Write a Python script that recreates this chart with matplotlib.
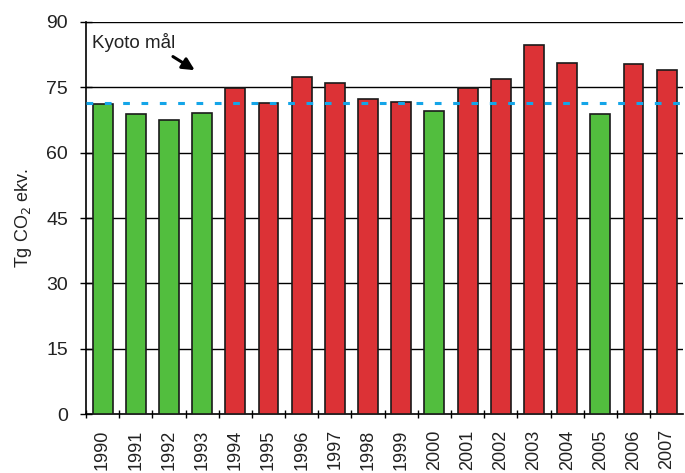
import numpy as np
import matplotlib.pyplot as plt

plt.rcParams['font.family'] = ['Liberation Sans', 'DejaVu Sans']

years = ['1990', '1991', '1992', '1993', '1994', '1995', '1996', '1997', '1998',
         '1999', '2000', '2001', '2002', '2003', '2004', '2005', '2006', '2007']
values = [71.2, 68.9, 67.4, 69.1, 74.8, 71.4, 77.3, 76.0, 72.3,
          71.6, 69.6, 74.8, 77.0, 84.7, 80.5, 68.9, 80.3, 79.0]
below_target = [True, True, True, True, False, False, False, False, False,
                False, True, False, False, False, False, True, False, False]
kyoto = 71.3

green = '#52be3e'
red = '#dc3236'

fig = plt.figure(figsize=(6.85, 4.73), dpi=100)
ax = fig.add_axes([0.1255, 0.1247, 0.872, 0.8288])

x = np.arange(len(years))
colors = [green if b else red for b in below_target]
ax.bar(x, values, width=0.6, color=colors, edgecolor='#1a1a1a', linewidth=1.2, zorder=3)

ax.set_ylim(0, 90)
ax.set_xlim(-0.5, len(years) - 0.5)
ax.set_yticks(np.arange(0, 91, 15))
for yv in np.arange(15, 91, 15):
    ax.axhline(yv, color='black', linewidth=1, zorder=1)
ax.axhline(kyoto, color='#14a5e8', linewidth=2.2, linestyle=(0, (2.2, 3.8)), zorder=4)

ax.set_xticks(x - 0.5, minor=False)
ax.set_xticklabels([])
ax.set_xticks(x, minor=True)
ax.set_xticklabels(years, minor=True, rotation=90)
ax.tick_params(axis='x', which='major', length=6, direction='inout', width=1)
ax.tick_params(axis='x', which='minor', length=0, pad=11, labelsize=13, labelcolor='#222222')
ax.tick_params(axis='y', length=8, direction='inout', width=1, labelsize=14, pad=9,
               labelcolor='#222222')

for s in ['top', 'right']:
    ax.spines[s].set_visible(False)
ax.spines['left'].set_linewidth(1.2)
ax.spines['bottom'].set_linewidth(1.2)

ax.set_ylabel('Tg CO$_2$ ekv.', fontsize=13, labelpad=9, color='#222222')

ax.annotate('', xy=(2.85, 78.6), xytext=(2.05, 82.4),
            arrowprops=dict(arrowstyle='-|>', color='black', lw=2.2, mutation_scale=18))
ax.text(-0.33, 85.4, 'Kyoto mål', fontsize=13.5, ha='left', va='center', color='#222222')

fig.savefig('out.png', dpi=100)
